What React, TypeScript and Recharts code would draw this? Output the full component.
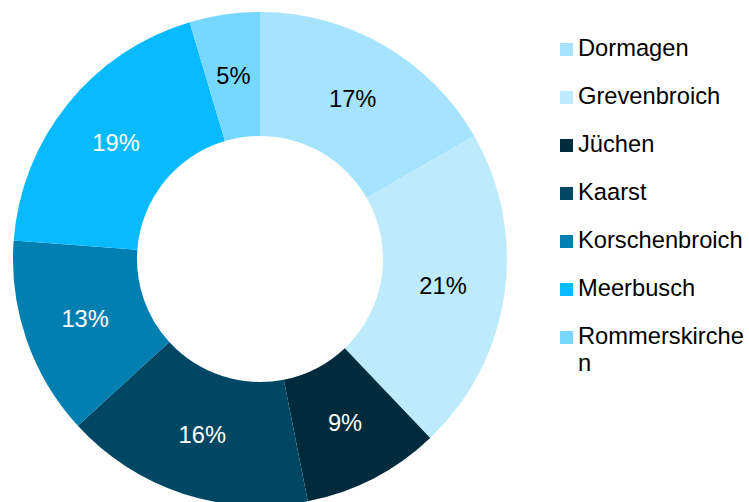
import { Cell, Legend, Pie, PieChart } from "recharts";

const towns = [
  "Dormagen",
  "Grevenbroich",
  "Jüchen",
  "Kaarst",
  "Korschenbroich",
  "Meerbusch",
  "Rommerskirchen",
];
// anteile in prozent (beschriftung gerundet)
const shares = [16.7, 21.2, 9.0, 16.3, 13.0, 19.2, 4.6];
const colors = [
  "#A5E3FE",
  "#BDEAFC",
  "#002B3D",
  "#004763",
  "#007FB0",
  "#08BAFF",
  "#77D8FF",
];
const labelColors = ["#000", "#000", "#fff", "#fff", "#fff", "#fff", "#000"];

const data = towns.map((name, i) => ({ name, value: shares[i] }));

const FONT = "Arial, 'Liberation Sans', sans-serif";
const RADIAN = Math.PI / 180;

// prozent mittig im ring
const renderLabel = (props: any) => {
  const { cx, cy, midAngle, innerRadius, outerRadius, percent, index } = props;
  const r = (innerRadius + outerRadius) / 2;
  const x = cx + r * Math.cos(-midAngle * RADIAN);
  const y = cy + r * Math.sin(-midAngle * RADIAN);
  return (
    <text
      x={x}
      y={y}
      fill={labelColors[index]}
      textAnchor="middle"
      dominantBaseline="central"
      fontSize={23.7}
      fontFamily={FONT}
    >
      {Math.round(percent * 100)}%
    </text>
  );
};

const renderLegend = () => (
  <div style={{ fontFamily: FONT, fontSize: 23.7, lineHeight: "27px", color: "#000" }}>
    {towns.map((name, i) => (
      <div key={name} style={{ display: "flex", alignItems: "flex-start", height: 48 }}>
        <div
          style={{
            width: 13,
            height: 13,
            marginTop: 8,
            marginRight: 5,
            background: colors[i],
            flex: "none",
          }}
        />
        <div style={{ width: 171, wordBreak: "break-all" }}>{name}</div>
      </div>
    ))}
  </div>
);

export default function App() {
  return (
    <div style={{ position: "absolute", left: 0, top: 0, width: 749, height: 502, background: "#fff" }}>
      <PieChart width={749} height={502} margin={{ top: 0, right: 0, bottom: 0, left: 0 }}>
        <Pie
          data={data}
          dataKey="value"
          nameKey="name"
          cx={260}
          cy={259}
          innerRadius={123}
          outerRadius={247}
          startAngle={90}
          endAngle={-270}
          stroke="none"
          label={renderLabel}
          labelLine={false}
          isAnimationActive={false}
        >
          {data.map((d, i) => (
            <Cell key={d.name} fill={colors[i]} />
          ))}
        </Pie>
        <Legend
          layout="vertical"
          align="right"
          verticalAlign="top"
          content={renderLegend}
          wrapperStyle={{ left: 560, top: 35, width: 189 }}
        />
      </PieChart>
    </div>
  );
}
